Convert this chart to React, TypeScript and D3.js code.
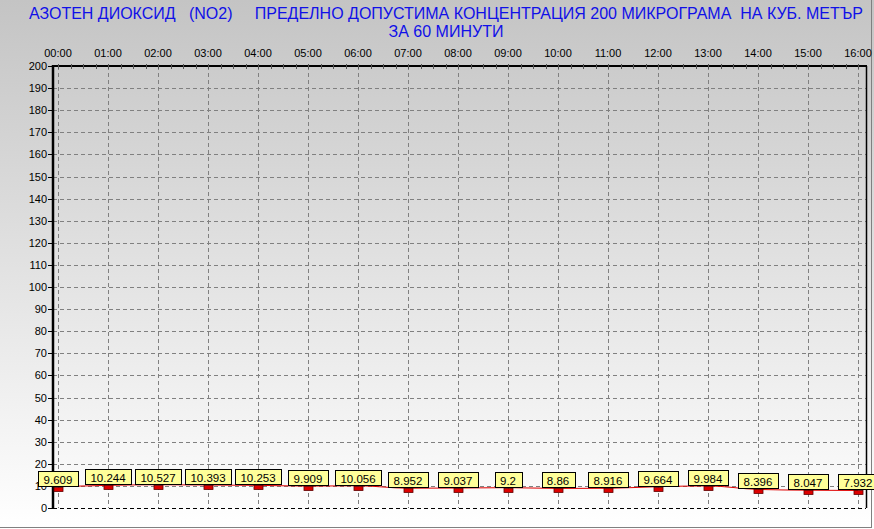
import React from "react";
import * as d3 from "d3";

const hours = ["00:00","01:00","02:00","03:00","04:00","05:00","06:00","07:00","08:00","09:00","10:00","11:00","12:00","13:00","14:00","15:00","16:00"];
const values = [9.609,10.244,10.527,10.393,10.253,9.909,10.056,8.952,9.037,9.2,8.86,8.916,9.664,9.984,8.396,8.047,7.932];
const labels = ["9.609","10.244","10.527","10.393","10.253","9.909","10.056","8.952","9.037","9.2","8.86","8.916","9.664","9.984","8.396","8.047","7.932"];
const yTicks = d3.range(0, 201, 10);
const titleLine1 = "АЗОТЕН ДИОКСИД   (NO2)     ПРЕДЕЛНО ДОПУСТИМА КОНЦЕНТРАЦИЯ 200 МИКРОГРАМА  НА КУБ. МЕТЪР";
const titleLine2 = "ЗА 60 МИНУТИ";

const W = 874, H = 529;
const L = 53, R = 866, T = 66, B = 508;
const FONT = "Arial, 'Liberation Sans', sans-serif";

function textWidth(s: string, size: number) {
  let w = 0;
  for (const c of s) w += c === "." ? 0.278 : 0.556;
  return w * size;
}

export default function App() {
  const x = d3.scaleLinear().domain([0, 16]).range([58, 858]);
  const y = d3.scaleLinear().domain([0, 200]).range([B, T]);
  const line = d3.line<number>().x((_, i) => x(i)).y(v => y(v)).curve(d3.curveMonotoneX);
  const minor = d3.range(0, 16.01, 0.25);
  return (
    <svg width={W} height={H} style={{ position: "absolute", left: 0, top: 0, fontFamily: FONT }}>
      <defs>
        <linearGradient id="bg" x1="0" y1="0" x2="0" y2="1">
          <stop offset="0" stopColor="#c4c4c4" />
          <stop offset="1" stopColor="#ffffff" />
        </linearGradient>
      </defs>
      <rect x={0} y={0} width={W} height={H} fill="url(#bg)" />
      <line x1={0} x2={872} y1={527.5} y2={527.5} stroke="#808080" />
      <line x1={871.5} x2={871.5} y1={0} y2={528} stroke="#808080" />
      <text x={446} y={19} textAnchor="middle" fontSize={16} fill="#1010e8" style={{ whiteSpace: "pre" }}>{titleLine1}</text>
      <text x={446} y={37} textAnchor="middle" fontSize={16} fill="#1010e8" style={{ whiteSpace: "pre" }}>{titleLine2}</text>
      {/* grid */}
      {yTicks.filter(t => t > 0 && t < 200).map(t => (
        <line key={"h" + t} x1={L} x2={R} y1={Math.round(y(t)) + 0.5} y2={Math.round(y(t)) + 0.5} stroke="#808080" strokeDasharray="4,3" />
      ))}
      {hours.map((h, i) => (
        <line key={"v" + i} x1={Math.round(x(i)) + 0.5} x2={Math.round(x(i)) + 0.5} y1={T} y2={B} stroke="#808080" strokeDasharray="4,3" />
      ))}
      {/* borders */}
      <line x1={L} x2={R} y1={B + 0.5} y2={B + 0.5} stroke="#000" strokeDasharray="4,3" />
      <line x1={L} x2={R + 1} y1={T} y2={T} stroke="#000" strokeWidth={2} />
      <line x1={R + 0.5} x2={R + 0.5} y1={T} y2={B} stroke="#000" strokeWidth={1.5} />
      {minor.map((m, i) => (
        <line key={"m" + i} x1={Math.round(x(m)) + 0.5} x2={Math.round(x(m)) + 0.5} y1={T - 2} y2={T + 3} stroke="#555" />
      ))}
      <line x1={L} x2={L} y1={T - 1} y2={B + 1} stroke="#000" strokeWidth={2.5} />
      {yTicks.map(t => (
        <g key={"yt" + t}>
          <line x1={L - 5} x2={L} y1={Math.round(y(t)) + 0.5} y2={Math.round(y(t)) + 0.5} stroke="#000" />
          <text x={47} y={y(t) + 4} textAnchor="end" fontSize={11} fill="#000">{t}</text>
        </g>
      ))}
      {hours.map((h, i) => (
        <text key={"xt" + i} x={x(i)} y={57} textAnchor="middle" fontSize={11} fill="#000">{h}</text>
      ))}
      {/* series */}
      <path d={line(values) || ""} fill="none" stroke="#e00000" strokeWidth={1} />
      {values.map((v, i) => (
        <rect key={"mk" + i} x={Math.round(x(i)) - 4} y={Math.round(y(v)) + 0.5} width={9} height={4} fill="#dd0000" stroke="#600000" strokeWidth={0.8} />
      ))}
      {values.map((v, i) => {
        const tw = textWidth(labels[i], 11.5);
        const bw = Math.round(tw + 11);
        const bx = Math.round(x(i) - bw / 2) + 0.5;
        const by = Math.round(y(v)) - 15.5;
        return (
          <g key={"lb" + i}>
            <rect x={bx} y={by} width={bw} height={15} fill="#ffff99" stroke="#000" />
            <text x={x(i)} y={by + 12} textAnchor="middle" fontSize={11.5} fill="#000">{labels[i]}</text>
          </g>
        );
      })}
    </svg>
  );
}
